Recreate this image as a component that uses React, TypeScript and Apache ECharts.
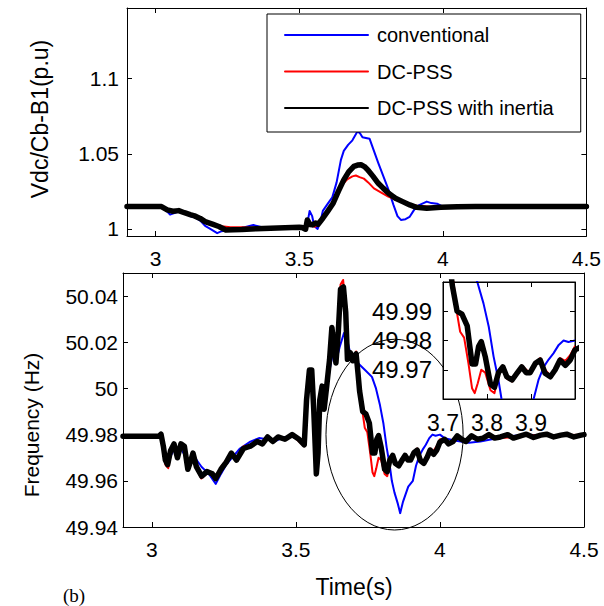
import React, { useEffect, useRef } from "react";
import * as echarts from "echarts";

// ---------- DATA ----------
const seriesNames = ["conventional", "DC-PSS", "DC-PSS with inertia"];

// Top panel: Vdc/Cb-B1 (p.u)
const vdcConvT = [2.9, 3.02, 3.035, 3.05, 3.065, 3.08, 3.1, 3.12, 3.135, 3.155, 3.172, 3.19, 3.214, 3.23, 3.25, 3.28, 3.31, 3.34, 3.37, 3.4, 3.45, 3.5, 3.515, 3.525, 3.536, 3.545, 3.552, 3.564, 3.575, 3.582, 3.6, 3.615, 3.63, 3.645, 3.655, 3.67, 3.685, 3.703, 3.712, 3.72, 3.732, 3.745, 3.76, 3.775, 3.793, 3.811, 3.828, 3.842, 3.854, 3.87, 3.884, 3.896, 3.908, 3.925, 3.944, 3.96, 3.98, 4.005, 4.05, 4.1, 4.2, 4.3, 4.4, 4.5];
const vdcConv = [1.0149, 1.0149, 1.0125, 1.0095, 1.0105, 1.0118, 1.011, 1.0085, 1.0078, 1.0055, 1.002, 1.0, 0.9972, 0.9985, 0.9995, 1.0, 1.0012, 1.0026, 1.0012, 1.0005, 1.001, 1.001, 1.0008, 1.0, 1.012, 1.0085, 1.002, 1.0, 1.006, 1.012, 1.017, 1.021, 1.031, 1.046, 1.052, 1.056, 1.059, 1.065, 1.0635, 1.061, 1.0605, 1.06, 1.052, 1.044, 1.035, 1.026, 1.016, 1.0085, 1.006, 1.0065, 1.008, 1.0115, 1.015, 1.0165, 1.0182, 1.0172, 1.0168, 1.0144, 1.0146, 1.0148, 1.0149, 1.0149, 1.0149, 1.0149];

const vdcPssT = [2.9, 3.02, 3.04, 3.06, 3.08, 3.1, 3.12, 3.14, 3.16, 3.18, 3.2, 3.23, 3.26, 3.3, 3.35, 3.4, 3.45, 3.5, 3.515, 3.525, 3.535, 3.545, 3.555, 3.565, 3.58, 3.6, 3.615, 3.63, 3.648, 3.667, 3.685, 3.697, 3.71, 3.725, 3.74, 3.76, 3.787, 3.81, 3.835, 3.86, 3.885, 3.91, 3.95, 4.0, 4.1, 4.5];
const vdcPss = [1.0149, 1.0149, 1.0128, 1.012, 1.0125, 1.0112, 1.0095, 1.0082, 1.0065, 1.0045, 1.003, 1.0018, 1.0012, 1.0012, 1.0008, 1.0008, 1.001, 1.0012, 1.0008, 1.0, 1.004, 1.002, 1.0015, 1.003, 1.007, 1.012, 1.018, 1.0235, 1.029, 1.033, 1.035, 1.0356, 1.0345, 1.0335, 1.031, 1.027, 1.024, 1.0215, 1.0195, 1.0178, 1.0165, 1.0155, 1.015, 1.0148, 1.0148, 1.0149];

const vdcInerT = [2.9, 3.02, 3.04, 3.06, 3.08, 3.1, 3.12, 3.135, 3.155, 3.172, 3.2, 3.22, 3.244, 3.27, 3.3, 3.35, 3.4, 3.45, 3.5, 3.51, 3.522, 3.528, 3.537, 3.546, 3.556, 3.565, 3.582, 3.6, 3.618, 3.636, 3.655, 3.672, 3.69, 3.703, 3.715, 3.727, 3.739, 3.757, 3.775, 3.793, 3.811, 3.835, 3.86, 3.885, 3.908, 3.944, 3.993, 4.05, 4.113, 4.5];
const vdcIner = [1.0149, 1.0149, 1.0127, 1.0118, 1.0122, 1.0108, 1.0095, 1.0087, 1.007, 1.0049, 1.003, 1.0016, 0.9993, 0.9994, 0.9996, 1.0002, 1.0005, 1.0008, 1.0011, 1.001, 0.9998, 1.006, 1.003, 1.0027, 1.004, 1.003, 1.0071, 1.012, 1.0171, 1.025, 1.0327, 1.038, 1.0416, 1.0425, 1.0427, 1.0415, 1.0393, 1.035, 1.0304, 1.027, 1.0238, 1.0205, 1.0182, 1.016, 1.0144, 1.0138, 1.0144, 1.0147, 1.0149, 1.0149];

// Bottom panel: Frequency (Hz)
const fConvT = [2.9, 3.025, 3.032, 3.047, 3.058, 3.075, 3.1, 3.125, 3.15, 3.173, 3.198, 3.222, 3.24, 3.258, 3.282, 3.306, 3.342, 3.372, 3.4, 3.425, 3.46, 3.49, 3.511, 3.529, 3.537, 3.547, 3.555, 3.562, 3.571, 3.577, 3.583, 3.591, 3.598, 3.607, 3.617, 3.628, 3.64, 3.652, 3.667, 3.68, 3.691, 3.703, 3.715, 3.74, 3.764, 3.778, 3.792, 3.804, 3.815, 3.826, 3.833, 3.842, 3.854, 3.862, 3.872, 3.89, 3.906, 3.917, 3.929, 3.94, 3.951, 3.963, 3.974, 3.985, 4.0, 4.016, 4.05, 4.1, 4.14, 4.18, 4.22, 4.26, 4.3, 4.4, 4.5];
const fConv = [49.9793, 49.9793, 49.98, 49.9706, 49.969, 49.973, 49.974, 49.969, 49.97, 49.966, 49.963, 49.9587, 49.963, 49.967, 49.9705, 49.974, 49.977, 49.9785, 49.978, 49.977, 49.979, 49.979, 49.978, 49.976, 49.993, 50.005, 50.005, 49.99, 49.965, 49.972, 49.993, 49.999, 49.992, 49.999, 50.008, 50.015, 50.012, 50.018, 50.024, 50.02, 50.014, 50.013, 50.011, 50.008, 50.005, 50.0, 49.9927, 49.9847, 49.9745, 49.9665, 49.96, 49.955, 49.95, 49.946, 49.951, 49.9575, 49.96, 49.9665, 49.971, 49.9735, 49.9756, 49.9785, 49.98, 49.9795, 49.98, 49.9785, 49.9775, 49.9765, 49.977, 49.978, 49.979, 49.9795, 49.98, 49.9795, 49.98];

const fPssT = [2.9, 3.025, 3.032, 3.04, 3.047, 3.057, 3.067, 3.08, 3.09, 3.102, 3.115, 3.127, 3.14, 3.156, 3.172, 3.19, 3.21, 3.222, 3.24, 3.258, 3.276, 3.294, 3.318, 3.342, 3.366, 3.384, 3.402, 3.42, 3.438, 3.462, 3.487, 3.511, 3.529, 3.537, 3.547, 3.555, 3.562, 3.571, 3.577, 3.583, 3.591, 3.598, 3.607, 3.617, 3.625, 3.633, 3.639, 3.647, 3.655, 3.664, 3.673, 3.679, 3.689, 3.697, 3.709, 3.717, 3.724, 3.73, 3.739, 3.748, 3.758, 3.766, 3.772, 3.779, 3.787, 3.796, 3.808, 3.817, 3.826, 3.836, 3.845, 3.857, 3.868, 3.879, 3.889, 3.898, 3.91, 3.921, 3.932, 3.944, 3.955, 3.966, 3.978, 3.989, 4.0, 4.016, 4.03, 4.045, 4.06, 4.075, 4.09, 4.11, 4.13, 4.15, 4.17, 4.2, 4.25, 4.3, 4.35, 4.4, 4.45, 4.5];
const fPss = [49.9793, 49.9793, 49.98, 49.974, 49.967, 49.9655, 49.972, 49.976, 49.971, 49.976, 49.974, 49.966, 49.97, 49.965, 49.961, 49.963, 49.963, 49.962, 49.966, 49.969, 49.972, 49.97, 49.975, 49.975, 49.977, 49.976, 49.979, 49.977, 49.979, 49.978, 49.98, 49.977, 49.975, 49.995, 50.007, 50.007, 49.99, 49.963, 49.972, 49.995, 50.001, 49.992, 50.001, 50.013, 50.027, 50.019, 50.012, 50.025, 50.045, 50.047, 50.034, 50.013, 50.016, 50.012, 50.016, 50.006, 50.0, 49.991, 49.983, 49.981, 49.972, 49.9637, 49.962, 49.9654, 49.97, 49.969, 49.963, 49.962, 49.968, 49.9705, 49.967, 49.966, 49.969, 49.9715, 49.97, 49.969, 49.9725, 49.974, 49.97, 49.968, 49.9705, 49.974, 49.973, 49.975, 49.978, 49.978, 49.9765, 49.977, 49.9795, 49.978, 49.977, 49.9795, 49.978, 49.9785, 49.98, 49.9785, 49.9788, 49.98, 49.9795, 49.9795, 49.9798, 49.98];

const fInerT = [2.9, 3.025, 3.032, 3.04, 3.047, 3.055, 3.065, 3.077, 3.089, 3.101, 3.113, 3.125, 3.136, 3.143, 3.155, 3.173, 3.191, 3.21, 3.222, 3.24, 3.258, 3.276, 3.294, 3.318, 3.342, 3.366, 3.384, 3.402, 3.42, 3.438, 3.462, 3.487, 3.511, 3.529, 3.537, 3.547, 3.555, 3.562, 3.571, 3.577, 3.583, 3.591, 3.598, 3.607, 3.617, 3.625, 3.633, 3.639, 3.647, 3.655, 3.665, 3.673, 3.679, 3.689, 3.697, 3.709, 3.716, 3.721, 3.732, 3.743, 3.755, 3.766, 3.774, 3.781, 3.787, 3.796, 3.808, 3.817, 3.826, 3.836, 3.845, 3.857, 3.868, 3.879, 3.889, 3.898, 3.91, 3.921, 3.932, 3.944, 3.955, 3.966, 3.978, 3.989, 4.0, 4.016, 4.03, 4.045, 4.06, 4.075, 4.09, 4.11, 4.13, 4.15, 4.17, 4.19, 4.21, 4.235, 4.255, 4.28, 4.3, 4.325, 4.35, 4.37, 4.395, 4.42, 4.44, 4.465, 4.49, 4.5];
const fIner = [49.9793, 49.9793, 49.9802, 49.975, 49.969, 49.967, 49.973, 49.976, 49.97, 49.976, 49.975, 49.965, 49.969, 49.972, 49.966, 49.962, 49.964, 49.963, 49.961, 49.965, 49.968, 49.972, 49.969, 49.974, 49.975, 49.977, 49.976, 49.979, 49.977, 49.979, 49.978, 49.98, 49.978, 49.9756, 49.995, 50.008, 50.008, 49.991, 49.963, 49.972, 49.995, 50.001, 49.991, 50.001, 50.0126, 50.0264, 50.018, 50.011, 50.024, 50.043, 50.044, 50.033, 50.0126, 50.0155, 50.012, 50.015, 50.006, 49.999, 49.99, 49.989, 49.985, 49.972, 49.972, 49.978, 49.9796, 49.9745, 49.965, 49.964, 49.969, 49.971, 49.9676, 49.9665, 49.9688, 49.971, 49.969, 49.969, 49.9722, 49.9733, 49.9688, 49.9676, 49.97, 49.9733, 49.9715, 49.9733, 49.9768, 49.978, 49.976, 49.977, 49.9795, 49.978, 49.977, 49.9795, 49.978, 49.9785, 49.98, 49.9785, 49.979, 49.98, 49.9785, 49.9795, 49.9802, 49.9788, 49.9798, 49.9802, 49.979, 49.9798, 49.9802, 49.979, 49.9798, 49.98];

// Axis ranges and tick labels
const topX = [2.9, 4.5];
const topY = [0.9953, 1.1471];
const botY = [49.94, 50.05];
const insetX = [3.7, 4.0];
const insetY = [49.96, 50.0];
const xTicks = [3, 3.5, 4, 4.5];
const topYTicks = [1, 1.05, 1.1];
const botYTicks = [49.94, 49.96, 49.98, 50, 50.02, 50.04];
const insetXTicks = [3.7, 3.8, 3.9];
const insetYTicks = [49.97, 49.98, 49.99];
// zoom ellipse (data units of lower panel): centre t, centre f, half-width s, half-height Hz
const ellipseData = [3.8425, 49.98, 0.238, 0.0413];

// ---------- STYLE / LAYOUT ----------
const FONT = '"Liberation Sans", Arial, sans-serif';
const COLORS = ["#0000ff", "#ff0000", "#000000"];
const WIDTHS = [2, 2, 5.5];
const G0 = { left: 127, top: 8, width: 460, height: 228 };
const G1 = { left: 123, top: 273, width: 461, height: 254 };
const G2 = { left: 443, top: 282, width: 132, height: 117 };

const zip = (t: number[], v: number[]) => t.map((x, i) => [x, v[i]]);
const fmt = (v: number) => String(+(+v).toFixed(2));

function xAxis(grid: number, range: number[], ticks: number[], pos: string, labels: boolean, fs: number, margin: number, z = 0) {
  return {
    type: "value", gridIndex: grid, position: pos, min: range[0], max: range[1], z,
    axisLine: { show: true, onZero: false, lineStyle: { color: "#000", width: 1 } },
    axisTick: { show: true, inside: true, length: 5, customValues: ticks, lineStyle: { color: "#000" } },
    axisLabel: { show: labels, customValues: ticks, margin, fontSize: fs, fontFamily: FONT, color: "#000", formatter: fmt },
    splitLine: { show: false },
  };
}
function yAxis(grid: number, range: number[], ticks: number[], pos: string, labels: boolean, fs: number, margin: number, z = 0) {
  return {
    type: "value", gridIndex: grid, position: pos, min: range[0], max: range[1], z,
    axisLine: { show: true, onZero: false, lineStyle: { color: "#000", width: 1 } },
    axisTick: { show: true, inside: true, length: 5, customValues: ticks, lineStyle: { color: "#000" } },
    axisLabel: { show: labels, customValues: ticks, margin, fontSize: fs, fontFamily: FONT, color: "#000", formatter: fmt },
    splitLine: { show: false },
  };
}

function lineSeries(name: string, data: number[][], i: number, ax: number, z = 3) {
  return {
    type: "line", name, data, xAxisIndex: ax, yAxisIndex: ax, showSymbol: false, symbol: "none",
    clip: true, z,
    lineStyle: { color: COLORS[i], width: WIDTHS[i], cap: "round", join: "round" },
    itemStyle: { color: COLORS[i] },
  };
}

export default function App() {
  const ref = useRef<HTMLDivElement>(null);
  useEffect(() => {
    if (!ref.current) return;
    const chart = echarts.init(ref.current, null, { renderer: "svg" });
    const topData = [zip(vdcConvT, vdcConv), zip(vdcPssT, vdcPss), zip(vdcInerT, vdcIner)];
    const botData = [zip(fConvT, fConv), zip(fPssT, fPss), zip(fInerT, fIner)];
    const series: any[] = [];
    topData.forEach((d, i) => series.push(lineSeries(seriesNames[i], d, i, 0)));
    botData.forEach((d, i) => series.push(lineSeries(seriesNames[i], d, i, 2)));
    botData.forEach((d, i) => series.push(lineSeries(seriesNames[i], d, i, 4, 5)));

    chart.setOption({
      animation: false,
      backgroundColor: "#fff",
      grid: [
        { ...G0, show: false },
        { ...G1, show: false },
        { ...G2, show: false },
      ],
      xAxis: [
        xAxis(0, topX, xTicks, "bottom", true, 21, 12),
        xAxis(0, topX, xTicks, "top", false, 21, 12),
        xAxis(1, topX, xTicks, "bottom", true, 21, 12),
        xAxis(1, topX, xTicks, "top", false, 21, 12),
        xAxis(2, insetX, insetXTicks, "bottom", true, 23, 12, 6),
        xAxis(2, insetX, insetXTicks, "top", false, 23, 12, 6),
      ],
      yAxis: [
        yAxis(0, topY, topYTicks, "left", true, 21, 8),
        yAxis(0, topY, topYTicks, "right", false, 21, 8),
        yAxis(1, botY, botYTicks, "left", true, 21, 5),
        yAxis(1, botY, botYTicks, "right", false, 21, 5),
        yAxis(2, insetY, insetYTicks, "left", true, 24, 11, 6),
        yAxis(2, insetY, insetYTicks, "right", false, 24, 11, 6),
      ],
      legend: {
        data: seriesNames,
        orient: "vertical",
        left: 267,
        top: 14,
        padding: [11, 27, 14, 17],
        itemWidth: 83,
        itemHeight: 14,
        itemGap: 16.5,
        backgroundColor: "#fff",
        borderColor: "#000",
        borderWidth: 1,
        selectedMode: false,
        itemStyle: { opacity: 0, borderWidth: 0 },
        textStyle: { fontSize: 20, fontFamily: FONT, color: "#000", padding: [0, 0, 0, 4] },
        z: 8,
      },
      series,
    });

    const c = chart.convertToPixel({ xAxisIndex: 2, yAxisIndex: 2 }, [ellipseData[0], ellipseData[1]]) as number[];
    const e = chart.convertToPixel({ xAxisIndex: 2, yAxisIndex: 2 }, [ellipseData[0] + ellipseData[2], ellipseData[1] + ellipseData[3]]) as number[];

    chart.setOption({
      graphic: [
        {
          type: "ellipse", z: 1, silent: true,
          shape: { cx: c[0], cy: c[1], rx: Math.abs(e[0] - c[0]), ry: Math.abs(e[1] - c[1]) },
          style: { fill: "none", stroke: "#000", lineWidth: 1 },
        },
        {
          type: "rect", z: 2, silent: true,
          shape: { x: G2.left, y: G2.top, width: G2.width, height: G2.height },
          style: { fill: "#fff", stroke: "#000", lineWidth: 1 },
        },
        {
          type: "text", x: 40, y: 119, rotation: Math.PI / 2, z: 10,
          style: { text: "Vdc/Cb-B1(p.u)", font: `23px ${FONT}`, fill: "#000", textAlign: "center", textVerticalAlign: "middle" },
        },
        {
          type: "text", x: 31, y: 425, rotation: Math.PI / 2, z: 10,
          style: { text: "Frequency (Hz)", font: `21px ${FONT}`, fill: "#000", textAlign: "center", textVerticalAlign: "middle" },
        },
        {
          type: "text", x: 354, y: 587, z: 10,
          style: { text: "Time(s)", font: `23px ${FONT}`, fill: "#000", textAlign: "center", textVerticalAlign: "middle" },
        },
        {
          type: "text", x: 74, y: 595, z: 10,
          style: { text: "(b)", font: `19px "Liberation Serif", "Times New Roman", serif`, fill: "#000", textAlign: "center", textVerticalAlign: "middle" },
        },
      ],
    });

    return () => chart.dispose();
  }, []);
  return <div ref={ref} style={{ position: "fixed", left: 0, top: 0, width: 604, height: 606, background: "#fff" }} />;
}
